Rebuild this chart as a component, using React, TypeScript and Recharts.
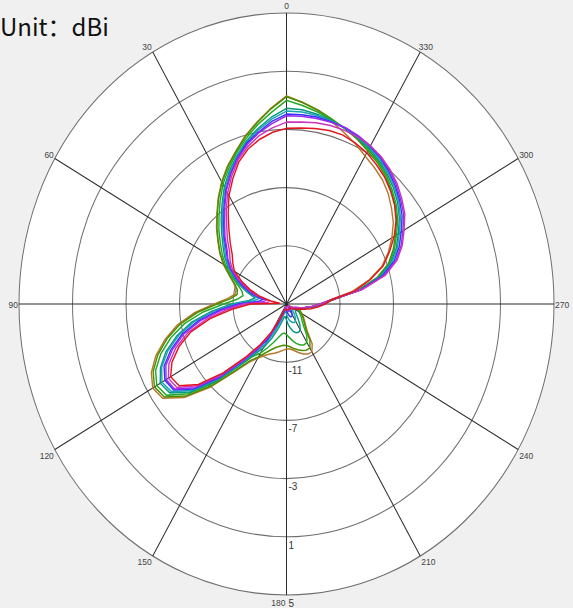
import React from 'react';
import { RadarChart, Radar, PolarGrid, PolarAngleAxis, PolarRadiusAxis } from 'recharts';

// angle (deg, counter-clockwise from top) for every sample
const ANGLES = [
  0, 5, 10, 15, 20, 25, 30, 35, 40, 45, 50, 55,
  60, 65, 70, 75, 80, 85, 90, 95, 100, 105, 110, 115,
  120, 125, 130, 135, 140, 145, 150, 155, 160, 165, 170, 175,
  180, 185, 190, 195, 200, 205, 210, 215, 220, 225, 230, 235,
  240, 245, 250, 255, 260, 265, 270, 275, 280, 285, 290, 295,
  300, 305, 310, 315, 320, 325, 330, 335, 340, 345, 350, 355,
];

const ANGLE_LABELS = [0, 30, 60, 90, 120, 150, 180, 210, 240, 270, 300, 330];
const RADIUS_TICKS = [-11, -7, -3, 1, 5];
const RADIUS_MIN = -15;
const RADIUS_MAX = 5;

// gain in dBi, one value per angle
const BROWN = [
  -0.7, -1.5, -2.3, -3.05, -3.85, -4.55, -5.3, -6.1, -6.9, -7.6, -8.3, -8.9,
  -9.55, -10.25, -10.8, -11.1, -11.1, -10.6, -9.6, -8.1, -6.7, -5.6, -4.6, -3.85,
  -3.45, -3.7, -5.0, -6.9, -8.9, -10.1, -10.7, -11.1, -11.35, -11.5, -11.65, -11.8,
  -11.9, -11.9, -11.75, -11.55, -11.35, -11.2, -11.2, -11.65, -12.6, -13.0, -13.25, -13.45,
  -13.65, -13.85, -13.9, -13.8, -13.5, -13.0, -12.4, -11.7, -10.0, -8.6, -7.4, -6.6,
  -5.9, -5.25, -4.75, -4.25, -3.85, -3.55, -3.25, -2.85, -2.45, -2.0, -1.5, -1.1,
];
const DARK_GREEN = [
  -0.75, -1.55, -2.35, -3.1, -3.9, -4.6, -5.35, -6.15, -6.95, -7.65, -8.35, -8.95,
  -9.6, -10.3, -10.85, -11.2, -11.25, -10.8, -9.8, -8.3, -6.9, -5.75, -4.75, -4.0,
  -3.6, -3.85, -5.15, -7.05, -9.0, -10.25, -10.8, -11.3, -11.65, -11.9, -12.05, -12.15,
  -12.15, -12.05, -11.9, -11.75, -11.6, -11.5, -11.5, -11.95, -12.75, -13.1, -13.35, -13.55,
  -13.75, -13.9, -13.9, -13.75, -13.4, -12.9, -12.3, -11.5, -9.6, -8.0, -6.9, -6.2,
  -5.6, -4.95, -4.4, -3.95, -3.5, -3.15, -2.85, -2.5, -2.2, -1.85, -1.45, -1.1,
];
const GREEN = [
  -1.0, -1.8, -2.5, -3.25, -4.0, -4.75, -5.5, -6.35, -7.15, -7.85, -8.55, -9.15,
  -9.75, -10.45, -11.1, -11.55, -11.7, -11.3, -10.3, -8.75, -7.25, -6.05, -5.0, -4.2,
  -3.8, -4.05, -5.4, -7.35, -9.35, -10.6, -11.1, -11.7, -12.2, -12.6, -12.9, -13.0,
  -12.9, -12.7, -12.45, -12.2, -12.0, -11.9, -11.95, -12.35, -13.0, -13.35, -13.55, -13.75,
  -13.9, -14.0, -14.0, -13.85, -13.5, -12.95, -12.3, -11.45, -9.5, -7.9, -6.8, -6.1,
  -5.5, -4.85, -4.3, -3.85, -3.4, -3.05, -2.75, -2.45, -2.15, -1.9, -1.6, -1.3,
];
const TEAL = [
  -1.55, -2.1, -2.75, -3.4, -4.15, -4.9, -5.7, -6.6, -7.4, -8.15, -8.8, -9.35,
  -9.95, -10.65, -11.3, -12.0, -12.6, -12.2, -10.9, -9.4, -7.8, -6.5, -5.4, -4.6,
  -4.1, -4.35, -5.6, -7.5, -9.45, -10.75, -11.5, -12.4, -13.2, -13.8, -14.1, -14.1,
  -13.9, -13.6, -13.3, -13.05, -12.9, -12.85, -12.95, -13.25, -13.65, -13.95, -14.1, -14.2,
  -14.2, -14.2, -14.1, -13.9, -13.55, -13.0, -12.35, -11.5, -9.45, -7.8, -6.7, -5.95,
  -5.35, -4.7, -4.15, -3.7, -3.3, -2.95, -2.65, -2.4, -2.15, -1.95, -1.75, -1.6,
];
const LIGHT_TEAL = [
  -1.74, -2.25, -2.85, -3.5, -4.2, -5.0, -5.8, -6.7, -7.55, -8.3, -8.95, -9.45,
  -10.05, -10.75, -11.45, -12.2, -12.9, -12.5, -11.1, -9.6, -8.0, -6.65, -5.55, -4.7,
  -4.25, -4.5, -5.75, -7.65, -9.6, -10.95, -11.8, -12.9, -13.8, -14.3, -14.5, -14.5,
  -14.3, -14.1, -13.9, -13.75, -13.65, -13.6, -13.65, -13.85, -14.1, -14.3, -14.4, -14.4,
  -14.4, -14.3, -14.2, -13.95, -13.6, -13.05, -12.4, -11.55, -9.4, -7.7, -6.6, -5.85,
  -5.25, -4.6, -4.05, -3.6, -3.2, -2.85, -2.55, -2.35, -2.15, -2.0, -1.85, -1.75,
];
const BLUE = [
  -1.95, -2.4, -3.0, -3.55, -4.3, -5.1, -5.95, -6.85, -7.7, -8.4, -9.1, -9.6,
  -10.15, -10.85, -11.6, -12.35, -13.2, -12.9, -11.4, -9.9, -8.3, -6.9, -5.8, -4.9,
  -4.5, -4.7, -5.9, -7.8, -9.8, -11.15, -12.2, -13.5, -14.3, -14.6, -14.7, -14.7,
  -14.6, -14.45, -14.3, -14.15, -14.05, -14.05, -14.15, -14.3, -14.5, -14.6, -14.6, -14.6,
  -14.5, -14.4, -14.3, -14.0, -13.6, -13.1, -12.45, -11.6, -9.35, -7.6, -6.45, -5.7,
  -5.1, -4.45, -3.95, -3.5, -3.1, -2.75, -2.5, -2.3, -2.12, -2.05, -1.95, -1.95,
];
const VIOLET = [
  -2.06, -2.55, -3.05, -3.65, -4.35, -5.15, -6.0, -6.95, -7.8, -8.5, -9.2, -9.65,
  -10.2, -10.95, -11.75, -12.5, -13.45, -13.2, -11.6, -10.1, -8.5, -7.05, -5.95, -5.05,
  -4.6, -4.8, -6.05, -7.95, -9.9, -11.3, -12.5, -13.9, -14.6, -14.8, -14.8, -14.8,
  -14.75, -14.7, -14.6, -14.5, -14.45, -14.5, -14.55, -14.65, -14.7, -14.7, -14.65, -14.6,
  -14.5, -14.4, -14.3, -14.0, -13.6, -13.1, -12.5, -11.6, -9.3, -7.45, -6.3, -5.55,
  -4.95, -4.3, -3.85, -3.4, -3.0, -2.7, -2.45, -2.25, -2.1, -2.07, -2.05, -2.05,
];
const MAGENTA = [
  -2.5, -2.85, -3.25, -3.8, -4.45, -5.3, -6.2, -7.15, -8.05, -8.75, -9.45, -9.85,
  -10.35, -11.1, -11.9, -12.7, -13.7, -13.6, -11.9, -10.5, -8.9, -7.35, -6.2, -5.3,
  -4.8, -5.0, -6.25, -8.15, -10.05, -11.4, -12.7, -14.0, -14.6, -14.8, -14.8, -14.8,
  -14.8, -14.8, -14.8, -14.8, -14.8, -14.8, -14.8, -14.8, -14.8, -14.8, -14.8, -14.8,
  -14.6, -14.45, -14.3, -14.0, -13.6, -13.1, -12.5, -11.6, -9.25, -7.35, -6.2, -5.45,
  -4.85, -4.2, -3.75, -3.3, -2.95, -2.65, -2.45, -2.35, -2.3, -2.3, -2.35, -2.45,
];
const RED = [
  -2.93, -3.15, -3.5, -3.95, -4.6, -5.5, -6.4, -7.4, -8.3, -9.05, -9.7, -10.1,
  -10.5, -11.3, -12.1, -12.9, -13.8, -14.5, -12.3, -10.9, -9.2, -7.6, -6.45, -5.55,
  -5.0, -5.2, -6.4, -8.3, -10.2, -11.6, -12.8, -13.9, -14.5, -14.6, -14.6, -14.6,
  -14.6, -14.6, -14.6, -14.6, -14.6, -14.6, -14.6, -14.6, -14.6, -14.6, -14.5, -14.4,
  -14.3, -14.15, -14.0, -13.6, -13.15, -12.65, -12.1, -11.6, -9.8, -8.5, -7.3, -6.5,
  -5.7, -5.0, -4.45, -4.0, -3.6, -3.3, -3.0, -2.8, -2.65, -2.65, -2.75, -2.85,
];

const SERIES = [
  { key: 'brown', color: '#b8772a', values: BROWN },
  { key: 'darkGreen', color: '#4d8c00', values: DARK_GREEN },
  { key: 'green', color: '#22a822', values: GREEN },
  { key: 'teal', color: '#009980', values: TEAL },
  { key: 'lightTeal', color: '#1aa3b0', values: LIGHT_TEAL },
  { key: 'blue', color: '#2f35ff', values: BLUE },
  { key: 'violet', color: '#9b27f5', values: VIOLET },
  { key: 'magenta', color: '#cc33bb', values: MAGENTA },
  { key: 'red', color: '#e3141e', values: RED },
];

const data = ANGLES.map((angle, i) => {
  const row: Record<string, number> = { angle };
  SERIES.forEach((s) => {
    row[s.key] = s.values[i];
  });
  return row;
});

// the original plot is a slightly stretched circle
const RX = 267.5;
const RY = 291;
const SY = RY / RX;
const W = 573;
const H = 608 / SY;
const CX = 286.5;
const CY_SCREEN = 304;
const CY = CY_SCREEN / SY;

const ringRadii = RADIUS_TICKS.map((v) => ((v - RADIUS_MIN) / (RADIUS_MAX - RADIUS_MIN)) * RX);
const spokeAngles = ANGLE_LABELS.map((a) => 90 + a);

const SMALL_FONT = "'Liberation Sans', Arial, sans-serif";

const AngleTick = (props: any) => {
  const { x, y, payload } = props;
  const a = Number(payload.value);
  if (a % 30 !== 0 || a >= 360) return <g />;
  // pull the label back onto the outer ring
  const vx = x - CX;
  const vy = y - CY;
  const len = Math.hypot(vx, vy) || 1;
  const ex = CX + (vx / len) * RX;
  const ey = CY + (vy / len) * RX;
  let anchor = 'middle';
  let dx = 0;
  let dy = 0;
  if (a === 0) {
    dy = -3.7;
  } else if (a === 180) {
    anchor = 'end';
    dx = -1;
    dy = 10;
  } else {
    anchor = a < 180 ? 'end' : 'start';
    dx = a < 180 ? -1 : 1;
    if (a === 330) dx = -1.5;
    if (a === 30 || a === 330) dy = -1.8;
    else if (a === 60 || a === 300) dy = 0;
    else if (a === 90 || a === 270) dy = 3.7;
    else dy = 8.3;
  }
  return (
    <text x={ex + dx} y={ey + dy} textAnchor={anchor} fontSize={8.5} fill="#444" fontFamily={SMALL_FONT}>
      {a}
    </text>
  );
};

const RadiusTick = (props: any) => {
  const { x, y, payload } = props;
  return (
    <text x={x + 2} y={y + 10.8} textAnchor="start" fontSize={10} fill="#333" fontFamily={SMALL_FONT}>
      {payload.value}
    </text>
  );
};

export default function App() {
  return (
    <div
      style={{
        position: 'absolute',
        left: 0,
        top: 0,
        width: 573,
        height: 608,
        background: '#f0f0f0',
        overflow: 'hidden',
      }}
    >
      <div
        style={{
          position: 'absolute',
          left: CX - RX,
          top: CY_SCREEN - RY,
          width: 2 * RX,
          height: 2 * RY,
          borderRadius: '50%',
          background: '#ffffff',
        }}
      />
      <div style={{ position: 'absolute', left: 0, top: 0, transform: `scaleY(${SY})`, transformOrigin: '0 0' }}>
        <RadarChart
          width={W}
          height={H}
          data={data}
          cx={CX}
          cy={CY}
          outerRadius={RX}
          startAngle={90}
          endAngle={450}
          margin={{ top: 0, right: 0, bottom: 0, left: 0 }}
        >
          <PolarGrid gridType="circle" radialLines={false} polarRadius={ringRadii} polarAngles={spokeAngles} stroke="#6e6e6e" />
          <PolarGrid gridType="circle" polarRadius={[]} polarAngles={spokeAngles} stroke="#2a2a2a" />
          <PolarAngleAxis
            dataKey="angle"
            type="number"
            domain={[0, 360]}
            ticks={ANGLE_LABELS}
            axisLine={false}
            tickLine={false}
            tickSize={0}
            tick={AngleTick}
          />
          <PolarRadiusAxis
            angle={-90}
            type="number"
            domain={[RADIUS_MIN, RADIUS_MAX]}
            ticks={RADIUS_TICKS}
            axisLine={false}
            tick={RadiusTick}
          />
          {SERIES.map((s) => (
            <Radar
              key={s.key}
              dataKey={s.key}
              stroke={s.color}
              strokeWidth={1.4}
              fill="none"
              fillOpacity={0}
              dot={false}
              isAnimationActive={false}
            />
          ))}
        </RadarChart>
      </div>
      <svg style={{ position: 'absolute', left: 0, top: 0 }} width={200} height={50}>
        <text x={0} y={36} fontSize={24} fill="#111" fontFamily="'Noto Sans CJK SC', 'Noto Sans', sans-serif">
          Unit：dBi
        </text>
      </svg>
    </div>
  );
}
